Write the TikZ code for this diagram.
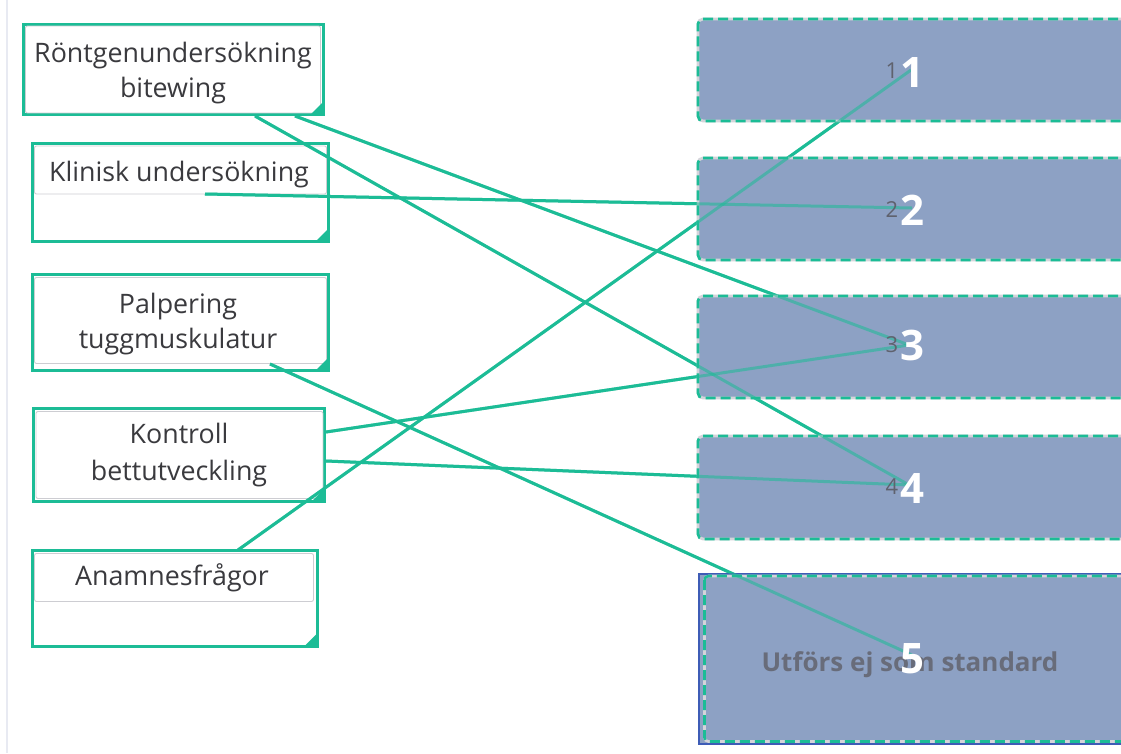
\documentclass[tikz,border=0pt]{standalone}
\usepackage{fontspec}
\setmainfont{Open Sans}
\usetikzlibrary{calc}
\definecolor{tealg}{RGB}{28,188,150}
\definecolor{boxblue}{RGB}{141,161,196}
\definecolor{txtgray}{RGB}{58,58,62}
\definecolor{innergray}{RGB}{205,205,210}
\definecolor{blueedge}{RGB}{62,92,182}
\definecolor{dashgray}{RGB}{212,212,218}
\definecolor{numgray}{RGB}{95,98,110}
\definecolor{utgray}{RGB}{104,108,122}
\definecolor{edgegray}{RGB}{232,234,242}
\begin{document}
\begin{tikzpicture}[x=1pt,y=-1pt,
  outerbox/.style={draw=tealg, line width=3pt, fill=white, anchor=north west, inner sep=0pt, outer sep=0pt},
  innerbox/.style={draw=innergray, line width=0.9pt, rounded corners=2pt, anchor=north west, inner sep=0pt, outer sep=0pt},
  rightbox/.style={fill=boxblue, draw=dashgray, line width=2.8pt, rounded corners=5pt, anchor=north west, inner sep=0pt, outer sep=0pt,
    postaction={draw=tealg, line width=2.8pt, dash pattern=on 10pt off 5pt}},
  lbl/.style={font=\fontsize{26.8}{36}\selectfont, text=txtgray, anchor=base, inner sep=0pt},
  bignum/.style={font=\bfseries\fontsize{42}{42}\selectfont, text=white, anchor=base, inner sep=0pt},
  smallnum/.style={font=\fontsize{22}{22}\selectfont, text=numgray, anchor=base, inner sep=0pt},
  conn/.style={draw=tealg, line width=3pt},
  connlight/.style={draw=tealg, line width=3pt, draw opacity=0.55}]
\useasboundingbox (0,0) rectangle (1121,753);
\clip (0,0) rectangle (1121,753);
\fill[white] (0,0) rectangle (1121,753);
\draw[edgegray, line width=1.5pt] (7,0) -- (7,753);

% left boxes
\node[outerbox, minimum width=300pt, minimum height=90pt] (b1) at (23.5,24.5) {};
\node[innerbox, minimum width=295pt, minimum height=87pt] (i1) at (25.5,26) {};
\node[outerbox, minimum width=296pt, minimum height=98pt] (b2) at (32.5,143.5) {};
\node[innerbox, minimum width=292pt, minimum height=48pt] (i2) at (34.5,146) {};
\node[outerbox, minimum width=296pt, minimum height=96pt] (b3) at (32.5,274.5) {};
\node[innerbox, minimum width=292pt, minimum height=86pt] (i3) at (34.5,277.5) {};
\node[outerbox, minimum width=291pt, minimum height=93pt] (b4) at (33.5,408.5) {};
\node[innerbox, minimum width=287pt, minimum height=87pt] (i4) at (36,411.5) {};
\node[outerbox, minimum width=285pt, minimum height=96pt] (b5) at (32.5,550) {};
\node[innerbox, minimum width=279pt, minimum height=48pt] (i5) at (34.5,553.5) {};
\foreach \b in {b1,b2,b3,b4,b5}{
  \fill[tealg] ($(\b.south east)+(0.5,0.5)$) -- ++(-14,0) -- ++(14,-14) -- cycle;
}

\node[lbl] (l1a) at (173,62) {Röntgenundersökning};
\node[lbl] (l1b) at (173,97) {bitewing};
\node[lbl] (l2) at (179,181) {Klinisk undersökning};
\node[lbl] (l3a) at (178,313) {Palpering};
\node[lbl] (l3b) at (178,348) {tuggmuskulatur};
\node[lbl] (l4a) at (179,443) {Kontroll};
\node[lbl] (l4b) at (179,480) {bettutveckling};
\node[lbl] (l5) at (172,585) {Anamnesfrågor};

% connector end points
\coordinate (s1) at (255,116);
\coordinate (s2) at (295,116);
\coordinate (s3) at (205,194);
\coordinate (s4) at (270,364);
\coordinate (s5) at (326,432);
\coordinate (s6) at (326,461);
\coordinate (s7) at (238,550);
\coordinate (t1) at (911,70);
\coordinate (t2) at (912,208);
\coordinate (t3) at (909,345);
\coordinate (t4) at (909,485);
\coordinate (t5) at (912,655);

\foreach \a/\z in {s1/t4,s2/t3,s3/t2,s4/t5,s5/t3,s6/t4,s7/t1}{
  \draw[conn] (\a) -- (\z);
}

% right boxes
\node[rightbox, minimum width=440pt, minimum height=102pt] (r1) at (698,19) {};
\node[rightbox, minimum width=440pt, minimum height=102pt] (r2) at (698,158) {};
\node[rightbox, minimum width=440pt, minimum height=102pt] (r3) at (698,296) {};
\node[rightbox, minimum width=440pt, minimum height=103pt] (r4) at (698,436) {};
\node[fill=boxblue, draw=blueedge, line width=2.6pt, anchor=north west, inner sep=0pt, outer sep=0pt,
      minimum width=440pt, minimum height=170pt] (r5) at (699,574) {};
\draw[dashgray, line width=2.6pt, rounded corners=4pt] (704.5,576) rectangle (1140,741.5);
\draw[tealg, line width=2.6pt, dash pattern=on 10pt off 5pt, rounded corners=4pt] (704.5,576) rectangle (1140,741.5);

\foreach \a/\z in {s1/t4,s2/t3,s3/t2,s4/t5,s5/t3,s6/t4,s7/t1}{
  \draw[connlight] (\a) -- (\z);
}

\node[font=\bfseries\fontsize{26}{26}\selectfont, text=utgray, anchor=base, inner sep=0pt] (ut) at (910,671) {Utförs ej som standard};

\node[smallnum] (n1s) at (892,78) {1};
\node[smallnum] (n2s) at (892,217) {2};
\node[smallnum] (n3s) at (892,352) {3};
\node[smallnum] (n4s) at (892,494) {4};

\node[bignum] (n1) at (912,87) {1};
\node[bignum] (n2) at (912,225) {2};
\node[bignum] (n3) at (912,360) {3};
\node[bignum] (n4) at (912,503) {4};
\node[bignum] (n5) at (912,673) {5};
\end{tikzpicture}
\end{document}
